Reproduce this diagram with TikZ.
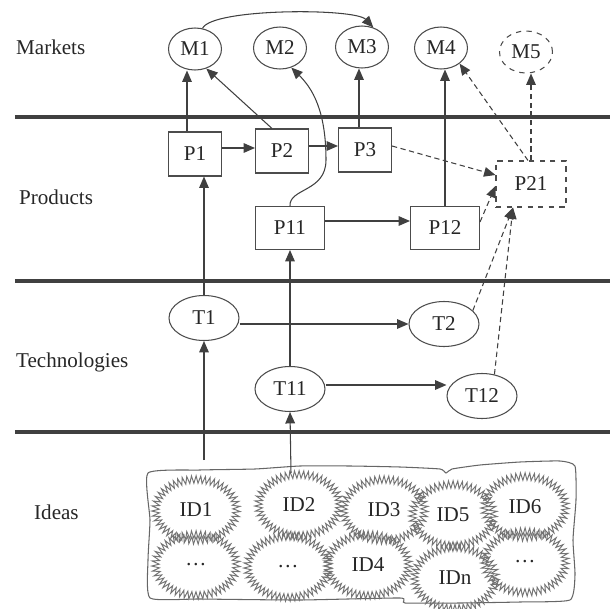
\documentclass[tikz,border=0pt]{standalone}
\usepackage{fontspec}
\setmainfont{Liberation Serif}
\usetikzlibrary{shapes.geometric,arrows.meta,decorations.pathmorphing}

\tikzset{
  line/.style={draw=black!75, line width=0.6pt},
  arr/.style={line, -{Triangle[length=6.5pt,width=5.5pt]}},
  darr/.style={arr, dash pattern=on 3pt off 2pt},
  band/.style={draw=black!75, line width=2.2pt},
  market/.style={ellipse, draw=black!70, line width=0.6pt, minimum width=1.06cm, minimum height=0.84cm, inner sep=0pt},
  product/.style={rectangle, draw=black!70, line width=0.6pt, minimum width=1.06cm, minimum height=0.88cm, inner sep=0pt},
  tech/.style={ellipse, draw=black!70, line width=0.6pt, minimum width=1.4cm, minimum height=0.9cm, inner sep=0pt},
  idea/.style={ellipse, draw=black!55, line width=0.55pt, minimum width=1.62cm, minimum height=1.22cm, inner sep=0pt,
    decoration={zigzag, segment length=2.5pt, amplitude=2.1pt}, decorate},
  layer/.style={anchor=west},
}

\begin{document}
\begin{tikzpicture}[x=0.02cm, y=-0.02cm, font=\fontsize{12}{14}\selectfont, text=black!85]
  \useasboundingbox (0,0) rectangle (610,609);

  % layer separators
  \foreach \y in {117,281,432}{
      \draw[band] (15,\y) -- (610,\y);
    }

  % layer names
  \node[layer] (mk) at (10,47) {Markets};
  \node[layer] (pr) at (13,197) {Products};
  \node[layer] (te) at (10,362) {Technologies};
  \node[layer] (id) at (28,512) {Ideas};

  % markets
  \foreach \name/\x/\y in {M1/195/49, M2/280/48, M3/362/47, M4/441/48}{
      \node[market] (\name) at (\x,\y) {\name};
    }
  \node[market, dashed] (M5) at (526,52) {M5};

  % products
  \foreach \name/\x/\y in {P1/195/154, P2/282/151, P3/365/150}{
      \node[product] (\name) at (\x,\y) {\name};
    }
  \node[product, minimum width=1.38cm, minimum height=0.86cm] (P11) at (290,228) {P11};
  \node[product, minimum width=1.38cm, minimum height=0.86cm] (P12) at (445,228) {P12};
  \node[product, dashed, minimum width=1.4cm, minimum height=0.92cm] (P21) at (531,184) {P21};

  % technologies
  \foreach \name/\x/\y in {T1/204/318, T2/444/324, T11/290/389, T12/482/396}{
      \node[tech] (\name) at (\x,\y) {\name};
    }

  % ideas pool
  \draw[line, draw=black!60] plot[smooth cycle, tension=0.3] coordinates {
      (148,473) (200,470) (255,469) (300,466) (350,466) (400,467) (440,469)
      (446,473) (452,469) (480,465) (520,462) (560,461) (575,466)
      (576,500) (573,540) (575,575) (570,600)
      (520,602) (460,603) (405,603) (400,598) (300,600) (200,599) (150,598)
      (148,560) (150,520)};
  \foreach \name/\x/\y/\txt in {ID1/196/510/ID1, ID2/299/505/ID2, ID3/384/510/ID3,
      ID5/453/515/ID5, ID6/525/507/ID6, IDa/196/565/\dots, IDb/288/567/\dots,
      ID4/368/565/ID4, IDn/455/578/IDn, IDc/525/562/\dots}{
      \node[idea] (\name) at (\x,\y) {\txt};
    }
  \coordinate (idA) at (204,460);
  \coordinate (idB) at (291,473);

  % ideas -> technologies
  \draw[arr] (idA) -- (T1.south);
  \draw[arr] (idB) -- (T11.south);

  % technologies
  \draw[arr] ([shift={(0,6)}]T1.east) -- ([shift={(0,6)}]T1.east -| T2.west);
  \draw[arr] ([shift={(0,-4)}]T11.east) -- ([shift={(0,-4)}]T11.east -| T12.west);
  \draw[arr] (T1.north) -- (T1.north |- P1.south);
  \draw[arr] (T11.north) -- (P11.south);
  \draw[darr] (T2.25) -- ([shift={(-18,0)}]P21.south);
  \draw[darr] (T12.60) -- ([shift={(-18,0)}]P21.south);

  % products
  \draw[arr] ([shift={(0,-6)}]P1.east) -- ([shift={(0,-6)}]P1.east -| P2.west);
  \draw[arr] ([shift={(0,-5)}]P2.east) -- ([shift={(0,-5)}]P2.east -| P3.west);
  \draw[arr] ([shift={(0,-7)}]P11.east) -- ([shift={(0,-7)}]P11.east -| P12.west);
  \draw[darr] ([shift={(0,-4)}]P3.east) -- ([shift={(0,-9)}]P21.west);
  \draw[darr] ([shift={(0,-6)}]P12.east) -- ([shift={(0,2)}]P21.west);

  % products -> markets
  \draw[arr] ([shift={(-8,0)}]P1.north) -- ([shift={(-8,0)}]P1.north |- M1.south);
  \draw[arr] ([shift={(-10,0)}]P2.north) -- (M1.-60);
  \draw[arr] (P11.north) .. controls (289,188) and (326,192) .. (326,160)
    .. controls (326,110) and (312,88) .. (M2.-60);
  \draw[arr] ([shift={(-6,0)}]P3.north) -- ([shift={(-6,0)}]P3.north |- M3.south);
  \draw[arr] (P12.north) -- (P12.north |- M4.south);
  \draw[darr] ([shift={(-3,0)}]P21.north) -- (M4.-40);
  \draw[darr] (P21.north) -- (P21.north |- M5.south);

  % markets
  \draw[arr] (M1.70) .. controls (212,8) and (355,8) .. (M3.60);
\end{tikzpicture}
\end{document}
